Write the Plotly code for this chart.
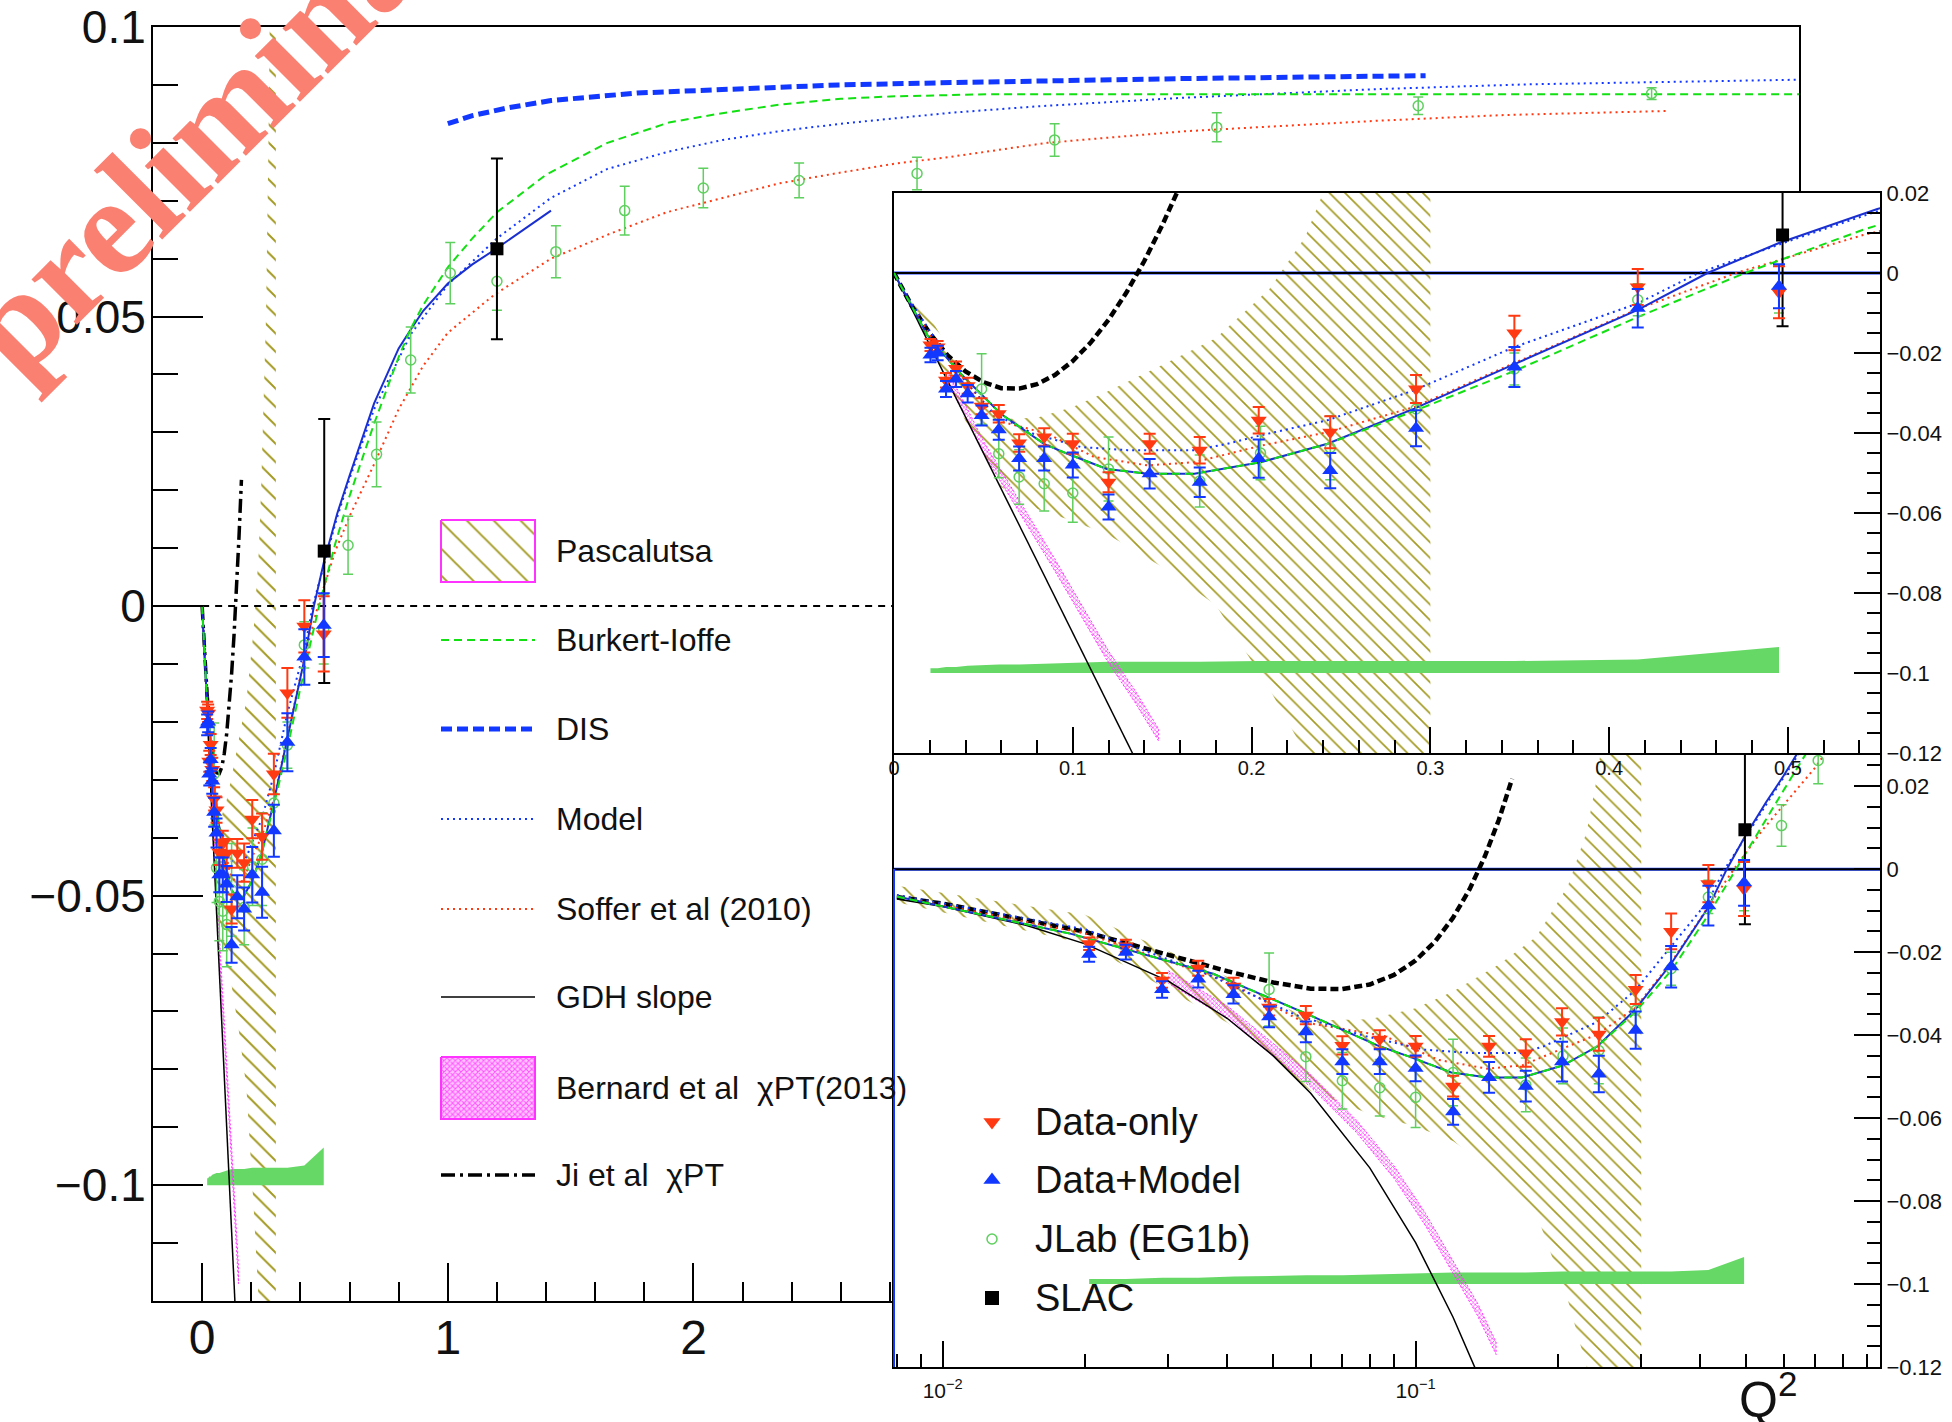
import plotly.graph_objects as go

W, H = 1952, 1422

# ---------------- data ----------------
Q2_DATA = [0.0204, 0.0244, 0.0291, 0.0347, 0.0412, 0.049, 0.0586, 0.070, 0.084, 0.100,
           0.120, 0.143, 0.171, 0.204, 0.244, 0.292, 0.347, 0.416, 0.495]
G1_DATA_ONLY = [-0.0180, -0.0185, -0.0268, -0.0239, -0.0282, -0.0333, -0.0352, -0.0425, -0.0410, -0.0427,
                -0.0523, -0.0427, -0.0443, -0.0368, -0.0398, -0.0290, -0.0150, -0.0035, -0.0048]
ERR_DATA_ONLY = [0.0015, 0.0015, 0.0018, 0.0018, 0.002, 0.002, 0.0022, 0.0022, 0.0022, 0.0025,
                 0.0025, 0.0025, 0.0033, 0.0033, 0.004, 0.0035, 0.0043, 0.0045, 0.0065]
G1_DATA_MODEL = [-0.0205, -0.0200, -0.0290, -0.0265, -0.0302, -0.0356, -0.0392, -0.0464, -0.0464, -0.0480,
                 -0.0585, -0.0502, -0.0523, -0.0464, -0.0494, -0.0388, -0.0235, -0.0088, -0.0033]
ERR_DATA_MODEL = [0.0018, 0.0018, 0.002, 0.002, 0.0022, 0.0025, 0.0025, 0.003, 0.003, 0.0031,
                  0.0031, 0.0037, 0.0037, 0.0048, 0.0044, 0.0045, 0.005, 0.0048, 0.0055]
SYS_TOP = [-0.0988, -0.0988, -0.0985, -0.0985, -0.0982, -0.0980, -0.0979, -0.0979, -0.0977, -0.0975,
           -0.0972, -0.0972, -0.0972, -0.0970, -0.0970, -0.0970, -0.0970, -0.0966, -0.0935]
SYS_BASE = -0.1

Q2_JLAB = [0.049, 0.0586, 0.070, 0.084, 0.100, 0.120, 0.171, 0.205, 0.244, 0.292, 0.347, 0.416, 0.495,
           0.594, 0.71, 0.849, 1.01, 1.2, 1.44, 1.72, 2.04, 2.43, 2.91, 3.47, 4.13, 4.95, 5.9]
G1_JLAB = [-0.029, -0.0452, -0.051, -0.0527, -0.055, -0.049, -0.052, -0.045, -0.0437, -0.034, -0.024,
           -0.0067, -0.004, 0.0105, 0.0262, 0.0425, 0.0575, 0.0561, 0.0612, 0.0683, 0.0722, 0.0735,
           0.0747, 0.0805, 0.0827, 0.0864, 0.0885]
ERR_JLAB = [0.0088, 0.006, 0.0068, 0.0068, 0.0073, 0.008, 0.0065, 0.0067, 0.008, 0.005, 0.004, 0.004,
            0.006, 0.005, 0.0056, 0.0057, 0.0053, 0.005, 0.0045, 0.0042, 0.0034, 0.003, 0.0028,
            0.0028, 0.0025, 0.0015, 0.001]

Q2_SLAC = [0.497, 1.2]
G1_SLAC = [0.0095, 0.0617]
ERR_SLAC = [0.0228, 0.0156]

# theory curves
BURKERT_Q2 = [0, 0.008, 0.0187, 0.0373, 0.0597, 0.0839, 0.097, 0.119, 0.142, 0.168, 0.205, 0.2425, 0.291,
              0.347, 0.416, 0.476, 0.542, 0.6, 0.7, 0.8, 0.85, 0.9, 1.0, 1.1, 1.2, 1.4, 1.65, 1.9, 2.1,
              2.35, 2.6, 2.8, 3.0, 3.2, 6.5]
BURKERT_G1 = [0, -0.0066, -0.0156, -0.0252, -0.0352, -0.0427, -0.0452, -0.049, -0.0502, -0.0502, -0.0473,
              -0.0427, -0.0345, -0.0245, -0.011, 0.0, 0.0108, 0.019, 0.0315, 0.043, 0.048, 0.052, 0.0585,
              0.0635, 0.068, 0.0745, 0.080, 0.0835, 0.085, 0.0866, 0.0876, 0.088, 0.0882, 0.0884, 0.0884]

BLUE_Q2 = [0, 0.008, 0.0187, 0.0373, 0.0597, 0.0839, 0.097, 0.119, 0.142, 0.168, 0.205, 0.2425, 0.291,
           0.347, 0.416, 0.455, 0.495, 0.55, 0.6, 0.7, 0.8, 0.85, 0.9, 1.0, 1.1, 1.2, 1.3, 1.42]
BLUE_G1 = [0, -0.0066, -0.0156, -0.0252, -0.0352, -0.0427, -0.0452, -0.049, -0.0502, -0.0502, -0.0473,
           -0.0427, -0.0339, -0.0228, -0.0092, 0.0, 0.0075, 0.016, 0.0225, 0.035, 0.0445, 0.0478, 0.051,
           0.0557, 0.059, 0.0618, 0.0648, 0.0683]

DIS_Q2 = [1.0, 1.1, 1.24, 1.42, 1.77, 2.12, 2.59, 3.05, 3.4, 4.0, 4.98]
DIS_G1 = [0.0833, 0.0847, 0.086, 0.0873, 0.0886, 0.0892, 0.09, 0.0904, 0.0907, 0.0911, 0.0916]

MODEL_Q2 = [0, 0.008, 0.02, 0.035, 0.056, 0.078, 0.1044, 0.1305, 0.168, 0.1865, 0.205, 0.2425, 0.291,
            0.347, 0.416, 0.45, 0.5, 0.547, 0.6, 0.7, 0.85, 1.0, 1.2, 1.42, 1.65, 1.9, 2.12, 2.35, 2.6,
            3.05, 3.4, 4.0, 4.8, 5.4, 6.5]
MODEL_G1 = [0, -0.0062, -0.0145, -0.0245, -0.0352, -0.0402, -0.0435, -0.0443, -0.0443, -0.0427, -0.0406,
            -0.0368, -0.0293, -0.0185, -0.0076, 0.0, 0.0079, 0.015, 0.022, 0.034, 0.047, 0.0555, 0.0635,
            0.0705, 0.0755, 0.0785, 0.0805, 0.082, 0.0833, 0.0852, 0.0863, 0.0878, 0.0893, 0.0901, 0.0909]

SOFFER_Q2 = [0, 0.008, 0.02, 0.04, 0.058, 0.0858, 0.112, 0.1418, 0.168, 0.206, 0.2425, 0.291, 0.347,
             0.416, 0.471, 0.542, 0.6, 0.7, 0.8, 0.9, 1.0, 1.19, 1.42, 1.66, 1.89, 2.12, 2.35, 2.59,
             2.82, 3.05, 3.44, 4.0, 4.78, 5.3, 5.96]
SOFFER_G1 = [0, -0.0065, -0.0155, -0.027, -0.0369, -0.0402, -0.046, -0.0481, -0.0473, -0.0431, -0.0398,
             -0.0335, -0.0225, -0.009, 0.0, 0.0095, 0.0155, 0.0245, 0.034, 0.0415, 0.0472, 0.0538, 0.06,
             0.0643, 0.068, 0.0705, 0.073, 0.0748, 0.0764, 0.0776, 0.08, 0.082, 0.0838, 0.0848, 0.0855]

GDH_Q2 = [0, 0.008, 0.01, 0.015, 0.02, 0.03, 0.04, 0.05, 0.06, 0.08, 0.10, 0.12, 0.134]
GDH_G1 = [0, -0.0072, -0.009, -0.0135, -0.018, -0.027, -0.036, -0.045, -0.054, -0.072, -0.09, -0.108, -0.1206]

JI_Q2 = [0, 0.008, 0.01, 0.02, 0.03, 0.04, 0.05, 0.06, 0.07, 0.08, 0.09, 0.10, 0.11, 0.12, 0.13, 0.14,
         0.15, 0.16]
JI_G1 = [0, -0.0067, -0.0083, -0.0151, -0.0206, -0.0246, -0.0273, -0.0288, -0.0289, -0.0278, -0.0255,
         -0.0220, -0.0174, -0.0117, -0.0049, 0.0030, 0.0119, 0.0218]

BERNARD_Q2 = [0.03, 0.04, 0.05, 0.06, 0.075, 0.09, 0.105, 0.12, 0.135, 0.148]
BERNARD_HI = [-0.0245, -0.033, -0.042, -0.0495, -0.0605, -0.0715, -0.083, -0.0945, -0.1045, -0.114]
BERNARD_LO = [-0.0275, -0.036, -0.045, -0.0525, -0.0635, -0.0745, -0.086, -0.0975, -0.1075, -0.117]

PASC_Q2 = [0, 0.008, 0.02, 0.04, 0.06, 0.08, 0.10, 0.12, 0.15, 0.18, 0.21, 0.23, 0.24, 0.25, 0.26, 0.27,
           0.28, 0.30]
PASC_HI = [0, -0.004, -0.011, -0.026, -0.0365, -0.0362, -0.0335, -0.0295, -0.023, -0.0163, -0.004, 0.009,
           0.02, 0.033, 0.05, 0.08, 0.12, 0.25]
PASC_LO = [0, -0.008, -0.018, -0.037, -0.0535, -0.059, -0.062, -0.0655, -0.0735, -0.083, -0.104, -0.12,
           -0.128, -0.136, -0.145, -0.155, -0.165, -0.185]

# ---------------- styles ----------------
FONT = "Liberation Sans"
RED = "#ff3a12"
BLUE = "#1238ff"
GREEN_BI = "#12e012"
JLAB_GREEN = "#5fcf5f"
SYS_GREEN = "#66d866"
OLIVE = "#a39a22"
MAGENTA = "#ff33ff"

fig = go.Figure()


def px_x(p):
    return p / W


def px_y(p):
    return 1 - p / H


def filt(xs, ys, log):
    if not log:
        return list(xs), list(ys)
    pts = [(a, b) for a, b in zip(xs, ys) if a > 0]
    return [p[0] for p in pts], [p[1] for p in pts]


def add_panel(xa, ya, log, main=False, hatch_size=11):
    ax = dict(xaxis=xa, yaxis=ya)
    if not main:
        bx = [1e-4, 10, 10, 1e-4] if log else [-1, 10, 10, -1]
        fig.add_trace(go.Scatter(x=bx, y=[-1, -1, 1, 1], fill="toself", fillcolor="white",
                                 mode="lines", line=dict(width=0), hoverinfo="skip", **ax))
    # Pascalutsa hatched band
    px_, hi = filt(PASC_Q2, PASC_HI, log)
    _, lo = filt(PASC_Q2, PASC_LO, log)
    fig.add_trace(go.Scatter(x=px_ + px_[::-1], y=hi + lo[::-1], fill="toself", fillcolor="rgba(0,0,0,0)",
                             fillpattern=dict(shape="\\", fgcolor=OLIVE, bgcolor="rgba(0,0,0,0)",
                                              size=hatch_size, solidity=0.15),
                             mode="lines", line=dict(width=0), hoverinfo="skip", **ax))
    # systematic band
    fig.add_trace(go.Scatter(x=Q2_DATA + Q2_DATA[::-1], y=SYS_TOP + [SYS_BASE] * len(Q2_DATA),
                             fill="toself", fillcolor=SYS_GREEN, mode="lines", line=dict(width=0),
                             hoverinfo="skip", **ax))
    # Bernard band
    fig.add_trace(go.Scatter(x=BERNARD_Q2 + BERNARD_Q2[::-1], y=BERNARD_HI + BERNARD_LO[::-1],
                             fill="toself", fillcolor="rgba(255,120,255,0.35)",
                             fillpattern=dict(shape="x", fgcolor=MAGENTA, bgcolor="rgba(0,0,0,0)",
                                              size=3, solidity=0.4),
                             mode="lines", line=dict(width=1, color=MAGENTA, dash="2px,2px"),
                             hoverinfo="skip", **ax))
    # zero line
    if main:
        fig.add_trace(go.Scatter(x=[0, 6.5], y=[0, 0], mode="lines",
                                 line=dict(color="black", width=2, dash="7px,6px"), hoverinfo="skip", **ax))
    else:
        zx = [0.005, 2] if log else [0, 0.6]
        fig.add_trace(go.Scatter(x=zx, y=[0, 0], mode="lines", line=dict(color=BLUE, width=3),
                                 hoverinfo="skip", **ax))
        fig.add_trace(go.Scatter(x=zx, y=[0, 0], mode="lines", line=dict(color="black", width=2),
                                 hoverinfo="skip", **ax))
    # GDH slope
    x, y = filt(GDH_Q2, GDH_G1, log)
    fig.add_trace(go.Scatter(x=x, y=y, mode="lines", line=dict(color="black", width=1.5),
                             hoverinfo="skip", **ax))
    # Ji et al
    x, y = filt(JI_Q2, JI_G1, log)
    if main:
        jl = dict(color="black", width=3.5, dash="14px,5px,3px,5px")
    else:
        jl = dict(color="black", width=4.5, dash="8px,4px")
    fig.add_trace(go.Scatter(x=x, y=y, mode="lines", line=jl, hoverinfo="skip", **ax))
    # DIS
    fig.add_trace(go.Scatter(x=DIS_Q2, y=DIS_G1, mode="lines",
                             line=dict(color=BLUE, width=5, dash="11px,5px"), hoverinfo="skip", **ax))
    # Soffer
    x, y = filt(SOFFER_Q2, SOFFER_G1, log)
    fig.add_trace(go.Scatter(x=x, y=y, mode="lines", line=dict(color=RED, width=2, dash="2px,4px"),
                             hoverinfo="skip", **ax))
    # Model
    x, y = filt(MODEL_Q2, MODEL_G1, log)
    fig.add_trace(go.Scatter(x=x, y=y, mode="lines", line=dict(color=BLUE, width=2, dash="2px,4px"),
                             hoverinfo="skip", **ax))
    # blue solid
    x, y = filt(BLUE_Q2, BLUE_G1, log)
    fig.add_trace(go.Scatter(x=x, y=y, mode="lines", line=dict(color="#1a2fd0", width=2),
                             hoverinfo="skip", **ax))
    # Burkert-Ioffe
    x, y = filt(BURKERT_Q2, BURKERT_G1, log)
    fig.add_trace(go.Scatter(x=x, y=y, mode="lines", line=dict(color=GREEN_BI, width=2, dash="8px,5px"),
                             hoverinfo="skip", **ax))
    # data points
    fig.add_trace(go.Scatter(x=Q2_JLAB, y=G1_JLAB, mode="markers",
                             marker=dict(symbol="circle-open", size=10, color=JLAB_GREEN,
                                         line=dict(width=1.5, color=JLAB_GREEN)),
                             error_y=dict(type="data", array=ERR_JLAB, color=JLAB_GREEN, thickness=1.5, width=5),
                             hoverinfo="skip", **ax))
    fig.add_trace(go.Scatter(x=Q2_SLAC, y=G1_SLAC, mode="markers",
                             marker=dict(symbol="square", size=13, color="black"),
                             error_y=dict(type="data", array=ERR_SLAC, color="black", thickness=2, width=6),
                             hoverinfo="skip", **ax))
    fig.add_trace(go.Scatter(x=Q2_DATA, y=G1_DATA_ONLY, mode="markers",
                             marker=dict(symbol="triangle-down", size=14, color=RED),
                             error_y=dict(type="data", array=ERR_DATA_ONLY, color=RED, thickness=2, width=6),
                             hoverinfo="skip", **ax))
    fig.add_trace(go.Scatter(x=Q2_DATA, y=G1_DATA_MODEL, mode="markers",
                             marker=dict(symbol="triangle-up", size=14, color=BLUE),
                             error_y=dict(type="data", array=ERR_DATA_MODEL, color=BLUE, thickness=2, width=6),
                             hoverinfo="skip", **ax))


# main panel (x/y), bottom inset (x2/y2), top inset (x3/y3), overlay (x4/y4)
add_panel("x", "y", False, main=True, hatch_size=13)
add_panel("x2", "y2", True)
add_panel("x3", "y3", False)

# ---------------- legend items (overlay pixel axes) ----------------
ov = dict(xaxis="x4", yaxis="y4")
LX0, LX1, TX = 441, 535, 554
fig.add_trace(go.Scatter(x=[LX0, LX1, LX1, LX0, LX0], y=[520, 520, 582, 582, 520], fill="toself",
                         fillcolor="white",
                         fillpattern=dict(shape="\\", fgcolor=OLIVE, bgcolor="white", size=19, solidity=0.1),
                         mode="lines", line=dict(color=MAGENTA, width=2), hoverinfo="skip", **ov))
fig.add_trace(go.Scatter(x=[LX0, LX1, LX1, LX0, LX0], y=[1057, 1057, 1119, 1119, 1057], fill="toself",
                         fillcolor="#ffb3ff",
                         fillpattern=dict(shape="x", fgcolor="#ff55ff", bgcolor="#ffc6ff", size=4, solidity=0.45),
                         mode="lines", line=dict(color=MAGENTA, width=2), hoverinfo="skip", **ov))
legend_lines = [
    (640, dict(color=GREEN_BI, width=2, dash="8px,5px")),
    (729, dict(color=BLUE, width=5, dash="11px,5px")),
    (819, dict(color=BLUE, width=2, dash="2px,4px")),
    (909, dict(color=RED, width=2, dash="2px,4px")),
    (997, dict(color="black", width=1.5)),
    (1175, dict(color="black", width=3.5, dash="14px,5px,3px,5px")),
]
for yy, ln in legend_lines:
    fig.add_trace(go.Scatter(x=[LX0, LX1], y=[yy, yy], mode="lines", line=ln, hoverinfo="skip", **ov))

legend_texts = [
    (551, "Pascalutsa"), (640, "Burkert-Ioffe"), (729, "DIS"), (819, "Model"),
    (909, "Soffer et al (2010)"), (997, "GDH slope"), (1088, "Bernard et al  \u03c7PT(2013)"),
    (1175, "Ji et al  \u03c7PT"),
]
annotations = []
for yy, t in legend_texts:
    annotations.append(dict(x=TX, y=yy, xref="x4", yref="y4", text=t, showarrow=False, xanchor="left",
                            yanchor="middle", font=dict(family=FONT, size=32, color="#111111")))

# inset legend
MX, MT = 992, 1033
fig.add_trace(go.Scatter(x=[MX], y=[1122], mode="markers", marker=dict(symbol="triangle-down", size=15, color=RED),
                         hoverinfo="skip", **ov))
fig.add_trace(go.Scatter(x=[MX], y=[1180], mode="markers", marker=dict(symbol="triangle-up", size=15, color=BLUE),
                         hoverinfo="skip", **ov))
fig.add_trace(go.Scatter(x=[MX], y=[1239], mode="markers",
                         marker=dict(symbol="circle-open", size=10, color=JLAB_GREEN, line=dict(width=1.5)),
                         hoverinfo="skip", **ov))
fig.add_trace(go.Scatter(x=[MX], y=[1298], mode="markers", marker=dict(symbol="square", size=14, color="black"),
                         hoverinfo="skip", **ov))
for yy, t in [(1122, "Data-only"), (1180, "Data+Model"), (1239, "JLab (EG1b)"), (1298, "SLAC")]:
    annotations.append(dict(x=MT, y=yy, xref="x4", yref="y4", text=t, showarrow=False, xanchor="left",
                            yanchor="middle", font=dict(family=FONT, size=38, color="#111111")))

annotations.append(dict(x=1768, y=1396, xref="x4", yref="y4", text="Q<sup>2</sup>", showarrow=False,
                        xanchor="center", yanchor="middle", font=dict(family=FONT, size=50, color="#111111")))
annotations.append(dict(x=237, y=97, xref="x4", yref="y4", text="<b>preliminary</b>", showarrow=False,
                        textangle=-45, xanchor="center", yanchor="middle",
                        font=dict(family="Liberation Serif", size=140, color="rgb(250,128,114)")))

# inset-2 left blue edge
shapes = [dict(type="line", xref="paper", yref="paper", x0=px_x(894), x1=px_x(894), y0=px_y(869),
               y1=px_y(1367), line=dict(color=BLUE, width=2), layer="above")]

# ---------------- axes ----------------
tick_common = dict(showgrid=False, zeroline=False, showline=True, linecolor="black", linewidth=2,
                   mirror=True, ticks="inside", tickcolor="black", tickwidth=2)

fig.update_layout(
    width=W, height=H, margin=dict(l=0, r=0, t=0, b=0), template="none",
    paper_bgcolor="white", plot_bgcolor="rgba(0,0,0,0)", showlegend=False,
    font=dict(family=FONT, color="#111111"),
    xaxis=dict(domain=[px_x(153), px_x(1799)], range=[-0.2, 6.5], anchor="y",
               tickvals=[0, 1, 2], ticktext=["0", "1", "2"], ticklen=38,
               tickfont=dict(size=48), ticklabelstandoff=-7,
               minor=dict(ticks="inside", dtick=0.2, tick0=0, ticklen=19, tickwidth=2, tickcolor="black"),
               **tick_common),
    yaxis=dict(domain=[px_y(1301), px_y(27)], range=[-0.12, 0.1], anchor="x",
               tickvals=[-0.1, -0.05, 0, 0.05, 0.1],
               ticktext=["\u22120.1", "\u22120.05", "0", "0.05", "0.1"], ticklen=50,
               tickfont=dict(size=46), ticklabelstandoff=-4,
               minor=dict(ticks="inside", dtick=0.01, tick0=0, ticklen=25, tickwidth=2, tickcolor="black"),
               **tick_common),
    xaxis2=dict(domain=[px_x(894), px_x(1880)], type="log", range=[-2.103, -0.018], anchor="y2",
                tickvals=[0.01, 0.1], ticktext=["10<sup>\u22122</sup>", "10<sup>\u22121</sup>"], ticklen=26,
                tickfont=dict(size=21), ticklabelstandoff=4,
                minor=dict(ticks="inside", tickvals=[0.008, 0.009, 0.02, 0.03, 0.04, 0.05, 0.06, 0.07, 0.08,
                                                     0.09, 0.2, 0.3, 0.4, 0.5, 0.6, 0.7, 0.8, 0.9],
                           ticklen=13, tickwidth=2, tickcolor="black"),
                **tick_common),
    yaxis2=dict(domain=[px_y(1367), px_y(753)], range=[-0.12, 0.028], anchor="x2", side="right",
                tickvals=[-0.12, -0.1, -0.08, -0.06, -0.04, -0.02, 0, 0.02],
                ticktext=["\u22120.12", "\u22120.1", "\u22120.08", "\u22120.06", "\u22120.04", "\u22120.02", "0", "0.02"],
                ticklen=26, tickfont=dict(size=22), ticklabelstandoff=0,
                minor=dict(ticks="inside", dtick=0.005, tick0=0, ticklen=13, tickwidth=2, tickcolor="black"),
                **tick_common),
    xaxis3=dict(domain=[px_x(894), px_x(1880)], range=[0, 0.5515], anchor="y3",
                tickvals=[0, 0.1, 0.2, 0.3, 0.4, 0.5], ticktext=["0", "0.1", "0.2", "0.3", "0.4", "0.5"],
                ticklen=26, tickfont=dict(size=20), ticklabelstandoff=-4,
                minor=dict(ticks="inside", dtick=0.02, tick0=0, ticklen=13, tickwidth=2, tickcolor="black"),
                **tick_common),
    yaxis3=dict(domain=[px_y(753), px_y(193)], range=[-0.12, 0.02], anchor="x3", side="right",
                tickvals=[-0.12, -0.1, -0.08, -0.06, -0.04, -0.02, 0, 0.02],
                ticktext=["\u22120.12", "\u22120.1", "\u22120.08", "\u22120.06", "\u22120.04", "\u22120.02", "0", "0.02"],
                ticklen=26, tickfont=dict(size=22), ticklabelstandoff=0,
                minor=dict(ticks="inside", dtick=0.005, tick0=0, ticklen=13, tickwidth=2, tickcolor="black"),
                **tick_common),
    xaxis4=dict(domain=[0, 1], range=[0, W], anchor="y4", visible=False, fixedrange=True),
    yaxis4=dict(domain=[0, 1], range=[H, 0], anchor="x4", visible=False, fixedrange=True),
    annotations=annotations, shapes=shapes,
)

fig.write_html("out.html")
